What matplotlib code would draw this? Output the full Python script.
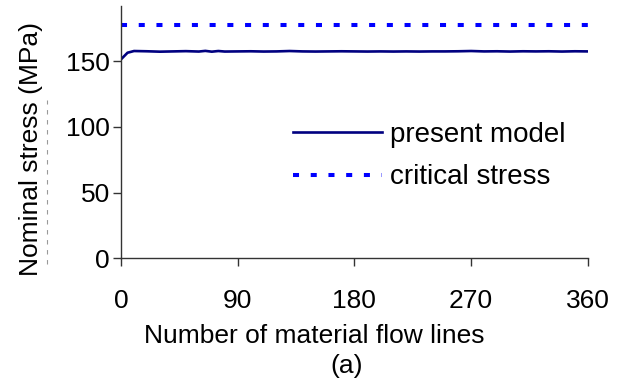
import matplotlib
matplotlib.use("Agg")
import matplotlib.pyplot as plt
from matplotlib.lines import Line2D

# Data
flow_lines = [0, 5, 10, 20, 30, 40, 50, 60, 65, 70, 75, 80, 90, 100, 110, 120, 130, 140, 150, 160,
              170, 180, 190, 200, 210, 220, 230, 240, 250, 260, 270, 280, 290, 300, 310, 320,
              330, 340, 350, 360]
present_model = [151.5, 156.5, 157.8, 157.6, 157.3, 157.5, 157.7, 157.4, 157.9, 157.3, 157.8, 157.4,
                 157.5, 157.6, 157.4, 157.5, 157.8, 157.5, 157.4, 157.5, 157.6, 157.5, 157.4, 157.5,
                 157.4, 157.5, 157.4, 157.5, 157.5, 157.6, 157.8, 157.5, 157.6, 157.4, 157.6, 157.5,
                 157.6, 157.4, 157.6, 157.5]
critical_stress = 177.5
x_ticks = [0, 90, 180, 270, 360]
y_ticks = [0, 50, 100, 150]

plt.rcParams['font.family'] = ['Liberation Sans', 'DejaVu Sans']

fig = plt.figure(figsize=(6.24, 3.83), dpi=100)
ax = fig.add_axes([0.194, 0.326, 0.748, 0.658])

ax.plot(flow_lines, present_model, color='#000080', lw=1.9, label='present model')
ax.plot([flow_lines[0], flow_lines[-1]], [critical_stress, critical_stress], color='#0000FF',
        lw=2.9, dashes=(1.5, 2.9), dash_capstyle='butt', label='critical stress')

ax.set_xlim(0, 360)
ax.set_ylim(0, 192)
ax.set_xticks(x_ticks)
ax.set_yticks(y_ticks)
for s in ['top', 'right']:
    ax.spines[s].set_visible(False)
for s in ['left', 'bottom']:
    ax.spines[s].set_color('#333333')
    ax.spines[s].set_linewidth(1.0)
ax.tick_params(axis='both', direction='out', length=6, width=1, color='#333333',
               labelsize=19, colors='black')
ax.tick_params(axis='x', pad=16)
ax.tick_params(axis='y', pad=2)

leg = ax.legend(loc='upper left', bbox_to_anchor=(0.345, 0.585), frameon=False, fontsize=20,
                handlelength=3.2, handletextpad=0.28, labelspacing=0.6, borderaxespad=0)

# faint scan artifact dashed line at left
fig.add_artist(Line2D([0.076, 0.076], [0.31, 0.74], transform=fig.transFigure,
                      color='#999999', lw=0.8, ls=(0, (4, 5))))

fig.text(0.05, 0.61, 'Nominal stress (MPa)', rotation=90, fontsize=19, ha='center', va='center')
fig.text(0.503, 0.123, 'Number of material flow lines', fontsize=19, ha='center', va='center')
fig.text(0.556, 0.045, '(a)', fontsize=19, ha='center', va='center')

fig.savefig('out.png', dpi=100)
